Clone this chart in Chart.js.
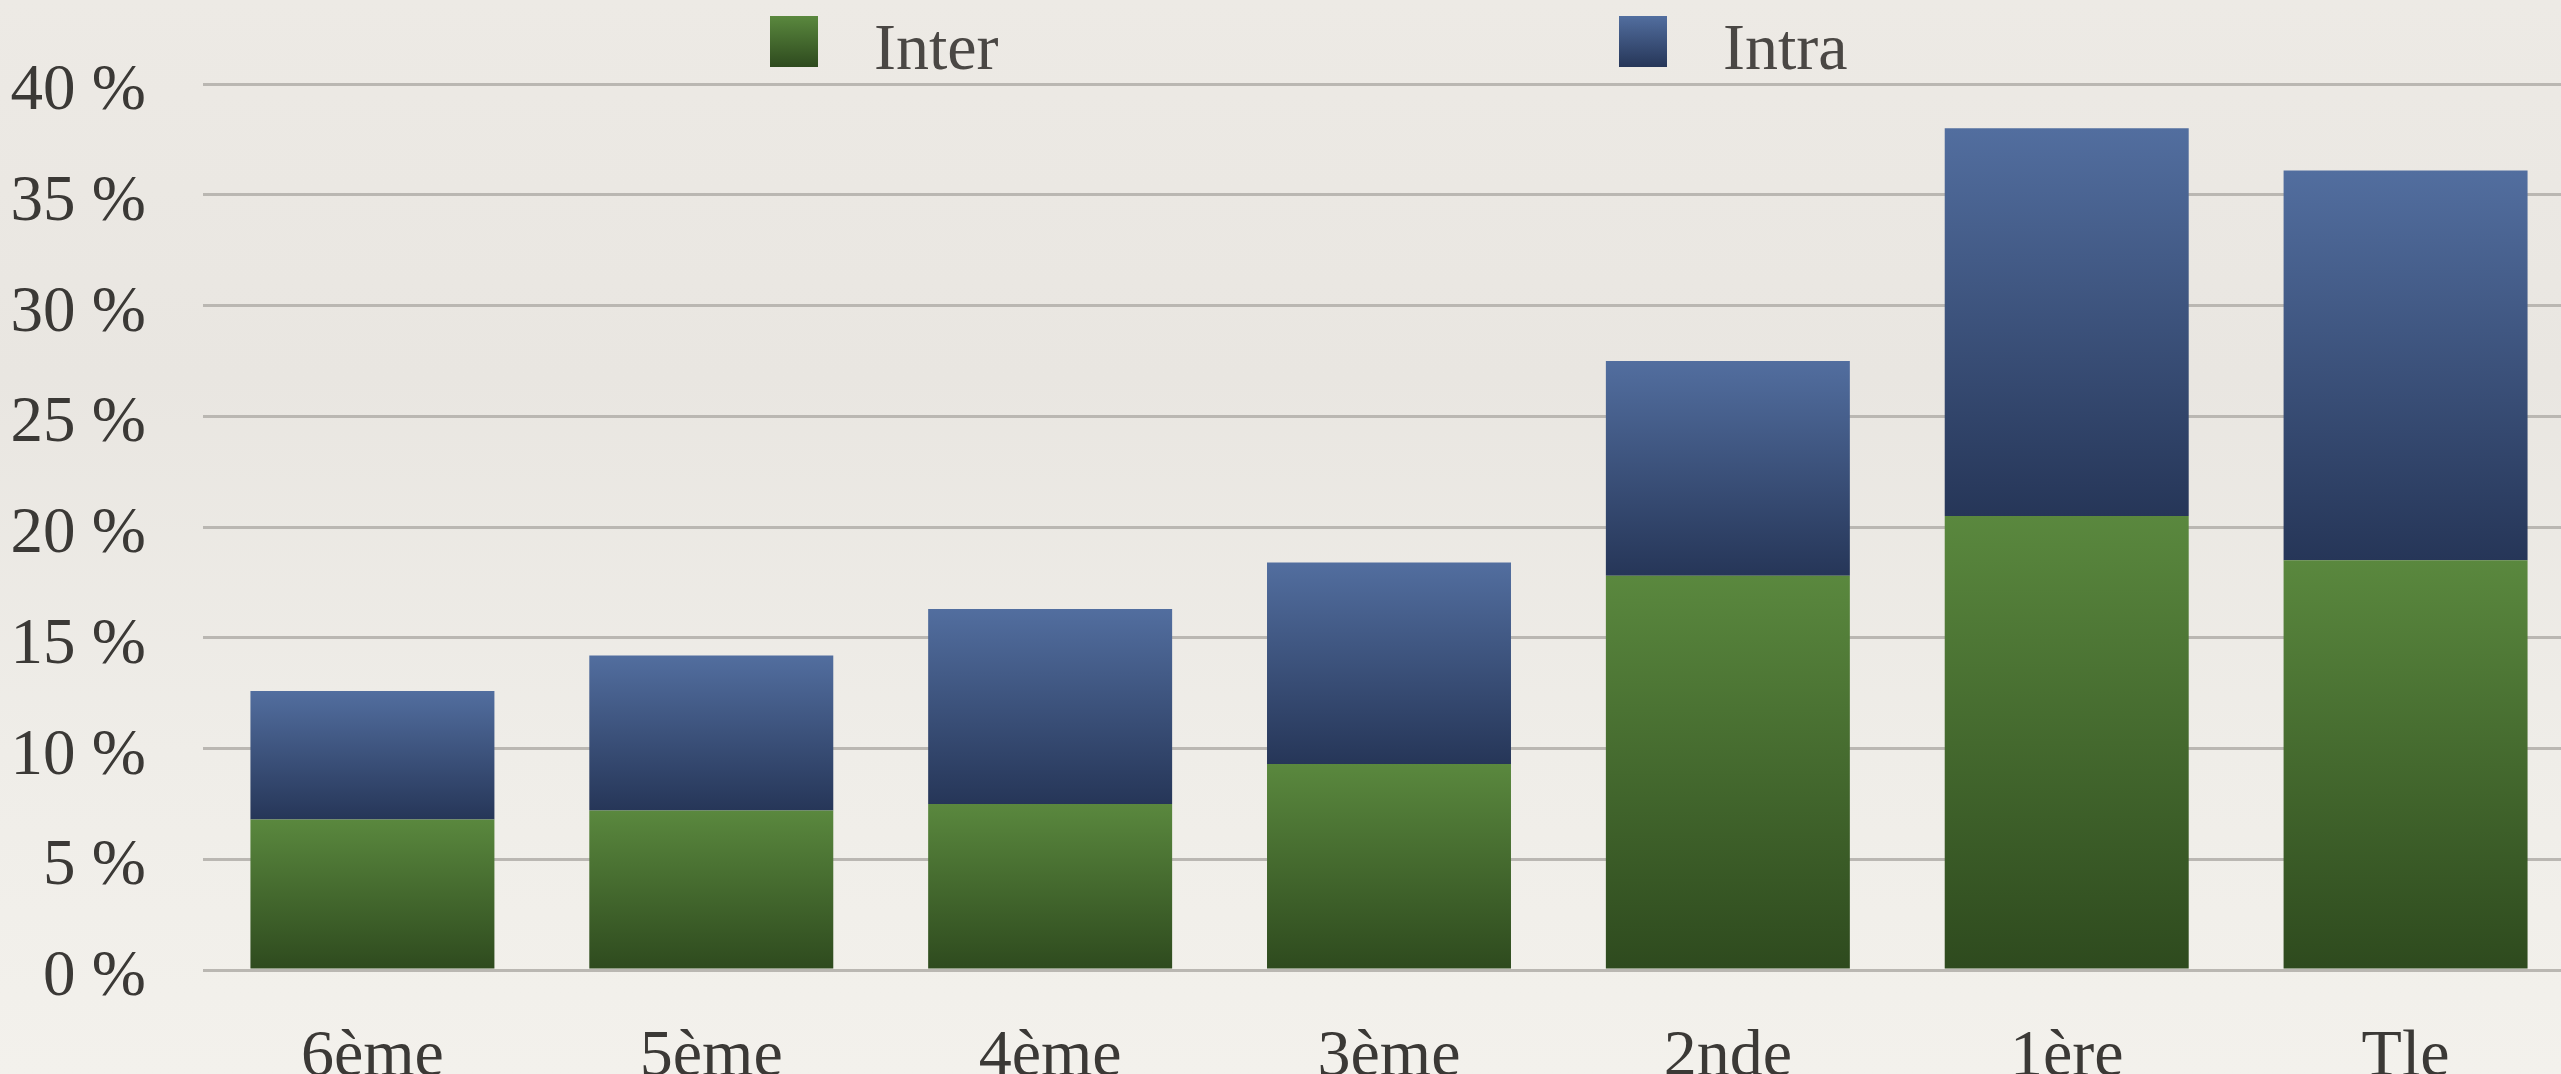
<!DOCTYPE html>
<html>
<head>
<meta charset="utf-8">
<script src="https://cdn.jsdelivr.net/npm/chart.js@4.4.1/dist/chart.umd.min.js"></script>
<style>
  html, body { margin: 0; padding: 0; overflow: hidden; }
  body {
    width: 2561px; height: 1074px;
    background: linear-gradient(to bottom, #edeae5 0%, #e9e6e1 35%, #efede8 70%, #f3f1ec 100%);
    font-family: "Liberation Serif", serif;
  }
  #wrap { position: absolute; left: 0; top: 0; width: 2575px; height: 1074px; }
  .legend-item { position: absolute; top: 0; height: 80px; }
  .legend-box { position: absolute; top: 16px; left: 0; width: 48px; height: 51px; }
  .legend-text { position: absolute; top: 14px; left: 104px; font-size: 66px; line-height: 66px; color: #4a4744; white-space: nowrap; }
</style>
</head>
<body>
<div id="wrap"><canvas id="chart"></canvas></div>
<div id="legend"></div>
<script>
const categories = ['6ème', '5ème', '4ème', '3ème', '2nde', '1ère', 'Tle'];
const interValues = [6.8, 7.2, 7.5, 9.3, 17.8, 20.5, 18.5];
const intraValues = [5.8, 7.0, 8.8, 9.1, 9.7, 17.5, 17.6];
const seriesNames = ['Inter', 'Intra'];
const yMax = 40;
const yStep = 5;

const greenTop = '#5a883e', greenBottom = '#2e4a1e';
const blueTop = '#526e9f', blueBottom = '#263658';

// gradient per segment, from its top to its bottom
function segmentFill(ctx, top, bottom) {
  const chart = ctx.chart;
  if (!chart.chartArea || ctx.type !== 'data') return top;
  const y = chart.scales.y;
  const i = ctx.dataIndex;
  let lo, hi;
  if (ctx.datasetIndex === 0) { lo = 0; hi = interValues[i]; }
  else { lo = interValues[i]; hi = interValues[i] + intraValues[i]; }
  const g = chart.ctx.createLinearGradient(0, y.getPixelForValue(hi), 0, y.getPixelForValue(lo));
  g.addColorStop(0, top);
  g.addColorStop(1, bottom);
  return g;
}

const chart = new Chart(document.getElementById('chart'), {
  type: 'bar',
  data: {
    labels: categories,
    datasets: [
      { label: seriesNames[0], data: interValues, backgroundColor: (c) => segmentFill(c, greenTop, greenBottom) },
      { label: seriesNames[1], data: intraValues, backgroundColor: (c) => segmentFill(c, blueTop, blueBottom) }
    ]
  },
  options: {
    responsive: true,
    maintainAspectRatio: false,
    animation: false,
    layout: { padding: { top: 84, right: 0, left: 0, bottom: 0 } },
    datasets: { bar: { barPercentage: 0.72, categoryPercentage: 1.0, borderWidth: 0 } },
    plugins: { legend: { display: false }, tooltip: { enabled: false } },
    scales: {
      x: {
        stacked: true,
        grid: { display: false },
        border: { display: false },
        ticks: { color: '#3b3936', font: { family: 'Liberation Serif', size: 66 }, padding: 40 },
        afterFit: (s) => { s.height = 104; }
      },
      y: {
        stacked: true,
        min: 0,
        max: yMax,
        border: { display: false },
        // invisible tick marks give the gap between labels and plot
        grid: { color: '#bab7b2', lineWidth: 3, drawTicks: true, tickLength: 57, tickColor: 'rgba(0,0,0,0)' },
        ticks: {
          stepSize: yStep,
          padding: 0,
          labelOffset: 8,
          color: '#3b3936',
          font: { family: 'Liberation Serif', size: 65 },
          callback: (v) => v + ' %'
        },
        afterFit: (s) => { s.width = 203; }
      }
    }
  }
});

// legend as html, positioned like the original
const legendPos = [770, 1619];
const legendGrad = [[greenTop, greenBottom], [blueTop, blueBottom]];
const legend = document.getElementById('legend');
seriesNames.forEach((name, i) => {
  const item = document.createElement('div');
  item.className = 'legend-item';
  item.style.left = legendPos[i] + 'px';
  item.innerHTML = '<div class="legend-box" style="background: linear-gradient(to bottom, ' +
    legendGrad[i][0] + ', ' + legendGrad[i][1] + ');"></div><div class="legend-text">' + name + '</div>';
  legend.appendChild(item);
});
</script>
</body>
</html>
